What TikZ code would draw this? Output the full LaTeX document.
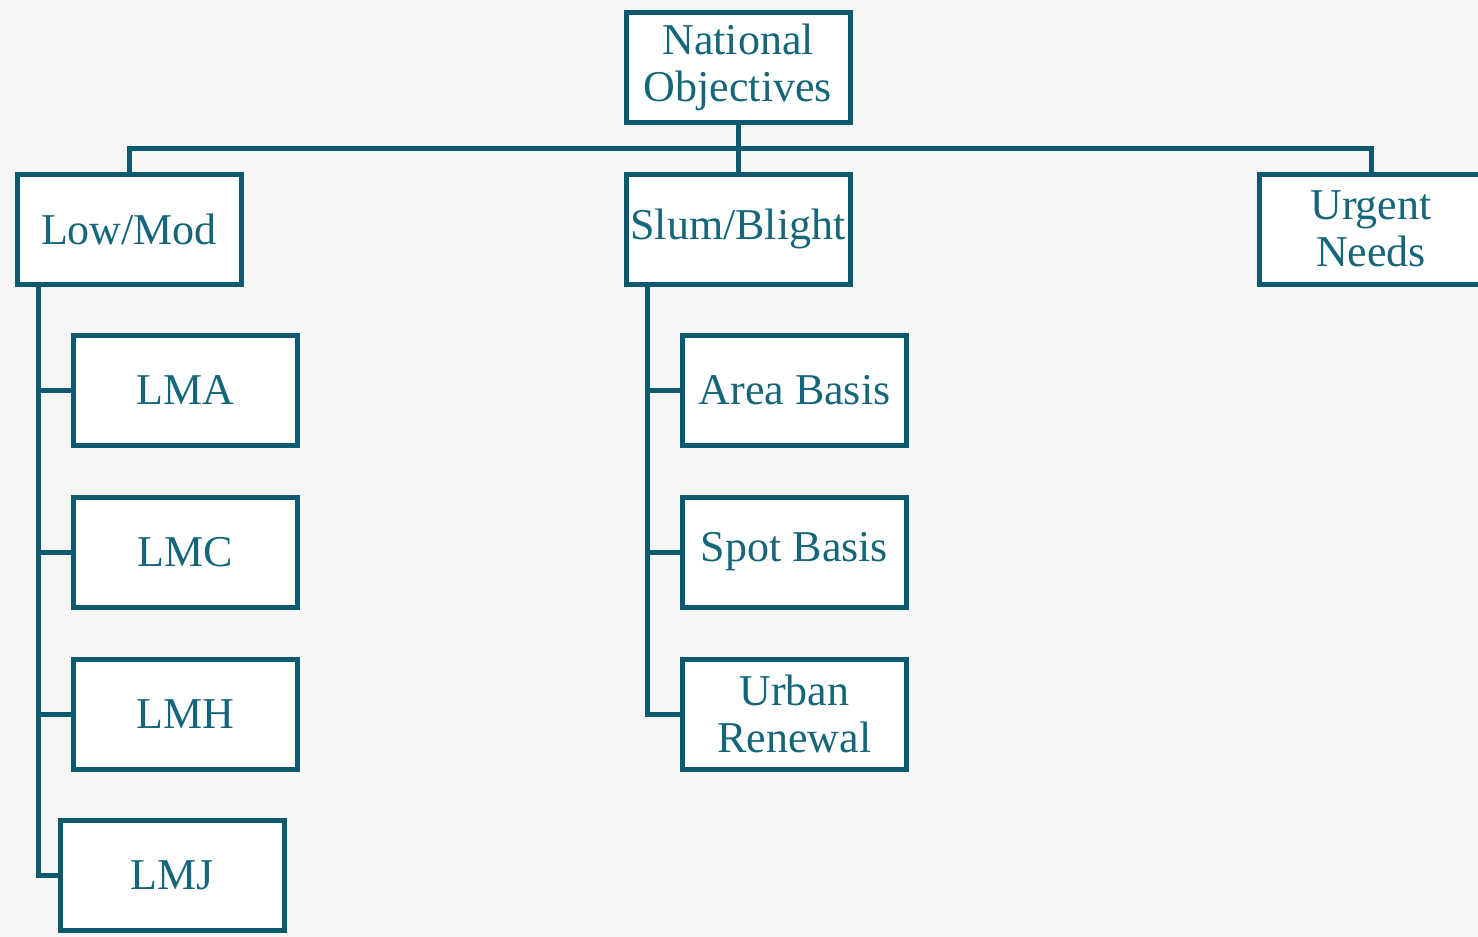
\documentclass[tikz,border=0pt]{standalone}
\usepackage{fontspec}
\setmainfont{Liberation Serif}
\usetikzlibrary{calc}
\definecolor{bg}{HTML}{F5F5F5}
\definecolor{edge}{HTML}{0D5A6E}
\definecolor{txt}{HTML}{15667A}
\begin{document}
\begin{tikzpicture}[x=1pt,y=-1pt,
  box/.style={draw=edge, line width=5pt, fill=white, minimum width=224pt, minimum height=110pt,
    inner sep=0pt, align=center, text=txt, font=\fontsize{44}{47}\selectfont},
  conn/.style={draw=edge, line width=5pt}]
\path[fill=bg, use as bounding box] (0,0) rectangle (1478,937);
\clip (0,0) rectangle (1478,937);
\node[box] (nat) at (738,67.5) {National\\Objectives};
\node[box] (low) at (129,229) {Low/Mod};
\node[box] (slum) at (738,229) {Slum/Blight};
\node[box] (urg) at (1371,229) {Urgent\\Needs};
\node[box] (lma) at (185.5,390) {LMA};
\node[box] (lmc) at (185.5,552) {LMC};
\node[box] (lmh) at (185.5,714) {LMH};
\node[box] (lmj) at (172.5,875) {LMJ};
\node[box] (area) at (794.5,390) {Area Basis};
\node[box] (spot) at (794.5,552) {Spot Basis};
\node[box] (urb) at (794.5,714) {Urban\\Renewal};
\coordinate (bus) at (738,148);
\coordinate (ltr) at ($(low.south west)+(23.5,0)$);
\coordinate (str) at ($(slum.south west)+(24,0)$);
\draw[conn] (nat.south) -- (slum.north);
\draw[conn] (low.north) |- (bus) -| (urg.north);
\draw[conn] (ltr) |- (lmj.west);
\foreach \n in {lma,lmc,lmh} \draw[conn] (\n.west) -- (\n.west -| ltr);
\draw[conn] (str) |- (urb.west);
\foreach \n in {area,spot} \draw[conn] (\n.west) -- (\n.west -| str);
\end{tikzpicture}
\end{document}
